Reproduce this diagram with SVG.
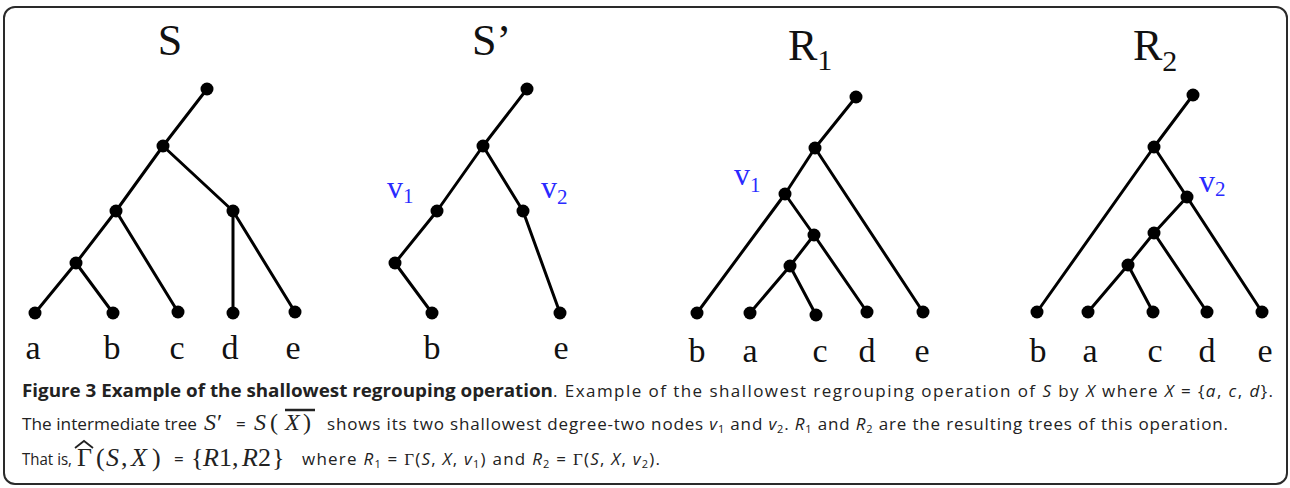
<svg xmlns="http://www.w3.org/2000/svg" width="1290" height="488" viewBox="0 0 1290 488">
<style>
.e{stroke:#000;stroke-width:3;fill:none;stroke-linecap:round}
.n{fill:#000}
.t{font-family:"Liberation Serif","DejaVu Serif",serif;fill:#111}
.ttl{font-size:44px}
.lf{font-size:34px;text-anchor:middle}
.bl{font-family:"Liberation Serif","DejaVu Serif",serif;fill:#2a2aff;font-size:32px}
.bls{font-size:21px}
.cap{font-family:"Open Sans","Noto Sans",sans-serif;font-size:17px;fill:#222}
.b{font-weight:bold}
.i{font-style:italic}
.m{font-family:"Liberation Serif","DejaVu Serif",serif;font-size:24px;fill:#222}
.m3{font-family:"Liberation Serif","DejaVu Serif",serif;font-size:26px;fill:#222}
.sb{font-size:11px}
</style>
<rect x="4" y="7" width="1283" height="477" rx="11" fill="#fff" stroke="#2a2a2a" stroke-width="2"/>

<g id="connectors">
<line class="e" x1="207" y1="89" x2="163" y2="146"/>
<line class="e" x1="163" y1="146" x2="116" y2="211"/>
<line class="e" x1="163" y1="146" x2="233" y2="211"/>
<line class="e" x1="116" y1="211" x2="76" y2="263"/>
<line class="e" x1="116" y1="211" x2="178" y2="312"/>
<line class="e" x1="76" y1="263" x2="35" y2="313"/>
<line class="e" x1="76" y1="263" x2="113" y2="313"/>
<line class="e" x1="233" y1="211" x2="233" y2="313"/>
<line class="e" x1="233" y1="211" x2="295" y2="312"/>
<line class="e" x1="527" y1="89" x2="483" y2="146"/>
<line class="e" x1="483" y1="146" x2="437" y2="211"/>
<line class="e" x1="483" y1="146" x2="523" y2="211"/>
<line class="e" x1="437" y1="211" x2="395" y2="263"/>
<line class="e" x1="395" y1="263" x2="432" y2="313"/>
<line class="e" x1="523" y1="211" x2="560" y2="313"/>
<line class="e" x1="856" y1="97" x2="815" y2="148"/>
<line class="e" x1="815" y1="148" x2="785" y2="194"/>
<line class="e" x1="815" y1="148" x2="923" y2="312"/>
<line class="e" x1="785" y1="194" x2="697" y2="313"/>
<line class="e" x1="785" y1="194" x2="814" y2="235"/>
<line class="e" x1="814" y1="235" x2="790" y2="266"/>
<line class="e" x1="814" y1="235" x2="867" y2="312"/>
<line class="e" x1="790" y1="266" x2="750" y2="313"/>
<line class="e" x1="790" y1="266" x2="816" y2="315"/>
<line class="e" x1="1193" y1="95" x2="1154" y2="147"/>
<line class="e" x1="1154" y1="147" x2="1037" y2="312"/>
<line class="e" x1="1154" y1="147" x2="1187" y2="197"/>
<line class="e" x1="1187" y1="197" x2="1154" y2="233"/>
<line class="e" x1="1187" y1="197" x2="1262" y2="312"/>
<line class="e" x1="1154" y1="233" x2="1128" y2="265"/>
<line class="e" x1="1154" y1="233" x2="1207" y2="312"/>
<line class="e" x1="1128" y1="265" x2="1088" y2="312"/>
<line class="e" x1="1128" y1="265" x2="1153" y2="312"/>
</g>

<g id="tree-S">
<text class="t ttl" x="170" y="55" text-anchor="middle">S</text>
<g id="S-root"><circle class="n" cx="207" cy="89" r="6.5"/></g>
<g id="S-n1"><circle class="n" cx="163" cy="146" r="6.5"/></g>
<g id="S-n2"><circle class="n" cx="116" cy="211" r="6.5"/></g>
<g id="S-n3"><circle class="n" cx="233" cy="211" r="6.5"/></g>
<g id="S-n4"><circle class="n" cx="76" cy="263" r="6.5"/></g>
<g id="S-a"><circle class="n" cx="35" cy="313" r="6.5"/><text class="t lf" x="33" y="359">a</text></g>
<g id="S-b"><circle class="n" cx="113" cy="313" r="6.5"/><text class="t lf" x="112" y="359">b</text></g>
<g id="S-c"><circle class="n" cx="178" cy="312" r="6.5"/><text class="t lf" x="177" y="359">c</text></g>
<g id="S-d"><circle class="n" cx="233" cy="313" r="6.5"/><text class="t lf" x="230" y="359">d</text></g>
<g id="S-e"><circle class="n" cx="295" cy="312" r="6.5"/><text class="t lf" x="293" y="359">e</text></g>
</g>

<g id="tree-Sprime">
<text class="t ttl" x="472" y="55">S’</text>
<g id="Sp-root"><circle class="n" cx="527" cy="89" r="6.5"/></g>
<g id="Sp-n1"><circle class="n" cx="483" cy="146" r="6.5"/></g>
<g id="Sp-v1"><circle class="n" cx="437" cy="211" r="6.5"/><text class="bl" x="387" y="198">v<tspan class="bls" dy="5">1</tspan></text></g>
<g id="Sp-v2"><circle class="n" cx="523" cy="211" r="6.5"/><text class="bl" x="541" y="198">v<tspan class="bls" dy="6">2</tspan></text></g>
<g id="Sp-n"><circle class="n" cx="395" cy="263" r="6.5"/></g>
<g id="Sp-b"><circle class="n" cx="432" cy="313" r="6.5"/><text class="t lf" x="432" y="359">b</text></g>
<g id="Sp-e"><circle class="n" cx="560" cy="313" r="6.5"/><text class="t lf" x="561" y="359">e</text></g>
</g>

<g id="tree-R1">
<text class="t ttl" x="788" y="60">R<tspan font-size="30" dy="10">1</tspan></text>
<g id="R1-root"><circle class="n" cx="856" cy="97" r="6.5"/></g>
<g id="R1-n1"><circle class="n" cx="815" cy="148" r="6.5"/></g>
<g id="R1-v1"><circle class="n" cx="785" cy="194" r="6.5"/><text class="bl" x="734" y="185">v<tspan class="bls" dy="7">1</tspan></text></g>
<g id="R1-n2"><circle class="n" cx="814" cy="235" r="6.5"/></g>
<g id="R1-n3"><circle class="n" cx="790" cy="266" r="6.5"/></g>
<g id="R1-b"><circle class="n" cx="697" cy="313" r="6.5"/><text class="t lf" x="697" y="362">b</text></g>
<g id="R1-a"><circle class="n" cx="750" cy="313" r="6.5"/><text class="t lf" x="750" y="362">a</text></g>
<g id="R1-c"><circle class="n" cx="816" cy="315" r="6.5"/><text class="t lf" x="820" y="362">c</text></g>
<g id="R1-d"><circle class="n" cx="867" cy="312" r="6.5"/><text class="t lf" x="867" y="362">d</text></g>
<g id="R1-e"><circle class="n" cx="923" cy="312" r="6.5"/><text class="t lf" x="922" y="362">e</text></g>
</g>

<g id="tree-R2">
<text class="t ttl" x="1133" y="60">R<tspan font-size="30" dy="11">2</tspan></text>
<g id="R2-root"><circle class="n" cx="1193" cy="95" r="6.5"/></g>
<g id="R2-n1"><circle class="n" cx="1154" cy="147" r="6.5"/></g>
<g id="R2-v2"><circle class="n" cx="1187" cy="197" r="6.5"/><text class="bl" x="1199" y="192">v<tspan class="bls" dy="4">2</tspan></text></g>
<g id="R2-n2"><circle class="n" cx="1154" cy="233" r="6.5"/></g>
<g id="R2-n3"><circle class="n" cx="1128" cy="265" r="6.5"/></g>
<g id="R2-b"><circle class="n" cx="1037" cy="312" r="6.5"/><text class="t lf" x="1038" y="362">b</text></g>
<g id="R2-a"><circle class="n" cx="1088" cy="312" r="6.5"/><text class="t lf" x="1090" y="362">a</text></g>
<g id="R2-c"><circle class="n" cx="1153" cy="312" r="6.5"/><text class="t lf" x="1155" y="362">c</text></g>
<g id="R2-d"><circle class="n" cx="1207" cy="312" r="6.5"/><text class="t lf" x="1207" y="362">d</text></g>
<g id="R2-e"><circle class="n" cx="1262" cy="312" r="6.5"/><text class="t lf" x="1265" y="362">e</text></g>
</g>

<g id="caption">
<text class="cap b" x="22" y="397" textLength="531" lengthAdjust="spacingAndGlyphs">Figure 3 Example of the shallowest regrouping operation</text>
<text class="cap" x="553" y="397" textLength="720">. Example of the shallowest regrouping operation of <tspan class="i">S</tspan> by <tspan class="i">X</tspan> where <tspan class="i">X</tspan> = {<tspan class="i">a</tspan>, <tspan class="i">c</tspan>, <tspan class="i">d</tspan>}.</text>

<text class="cap" x="22" y="430" textLength="175" lengthAdjust="spacingAndGlyphs">The intermediate tree</text>
<text class="m i" x="204" y="430">S</text>
<text class="m" x="217" y="430">′</text>
<text class="cap" x="236" y="430">=</text>
<text class="m i" x="254" y="430">S</text>
<text class="m" x="270" y="430">(</text>
<text class="m i" x="285" y="430">X</text>
<text class="m" x="303" y="430">)</text>
<line x1="285" y1="410" x2="315" y2="410" stroke="#222" stroke-width="2.5"/>
<text class="cap" x="327" y="430" textLength="901">shows its two shallowest degree-two nodes <tspan class="i">v</tspan><tspan class="sb" dy="3">1</tspan><tspan dy="-3"> and </tspan><tspan class="i">v</tspan><tspan class="sb" dy="3">2</tspan><tspan dy="-3">. </tspan><tspan class="i">R</tspan><tspan class="sb" dy="3">1</tspan><tspan dy="-3"> and </tspan><tspan class="i">R</tspan><tspan class="sb" dy="3">2</tspan><tspan dy="-3"> are the resulting trees of this operation.</tspan></text>

<text class="cap" x="22" y="465" textLength="50" lengthAdjust="spacingAndGlyphs">That is,</text>
<text class="m3" x="77" y="466">Γ</text>
<path d="M75 448 L84 441 L93 448" fill="none" stroke="#222" stroke-width="1.8"/>
<text class="m3" x="96" y="466">(</text>
<text class="m3 i" x="106" y="466">S</text>
<text class="m3" x="121" y="466">,</text>
<text class="m3 i" x="131" y="466">X</text>
<text class="m3" x="152" y="466">)</text>
<text class="cap" x="174" y="465">=</text>
<text class="m3" x="191" y="466">{</text>
<text class="m3 i" x="203" y="466">R</text>
<text class="m3" x="219" y="466">1</text>
<text class="m3" x="232" y="466">,</text>
<text class="m3 i" x="242" y="466">R</text>
<text class="m3" x="258" y="466">2</text>
<text class="m3" x="272" y="466">}</text>
<text class="cap" x="302" y="465" textLength="358">where <tspan class="i">R</tspan><tspan class="sb" dy="3">1</tspan><tspan dy="-3"> = </tspan><tspan font-family="Liberation Serif,serif">Γ</tspan>(<tspan class="i">S</tspan>, <tspan class="i">X</tspan>, <tspan class="i">v</tspan><tspan class="sb" dy="3">1</tspan><tspan dy="-3">) and </tspan><tspan class="i">R</tspan><tspan class="sb" dy="3">2</tspan><tspan dy="-3"> = </tspan><tspan font-family="Liberation Serif,serif">Γ</tspan>(<tspan class="i">S</tspan>, <tspan class="i">X</tspan>, <tspan class="i">v</tspan><tspan class="sb" dy="3">2</tspan><tspan dy="-3">).</tspan></text>
</g>
</svg>
